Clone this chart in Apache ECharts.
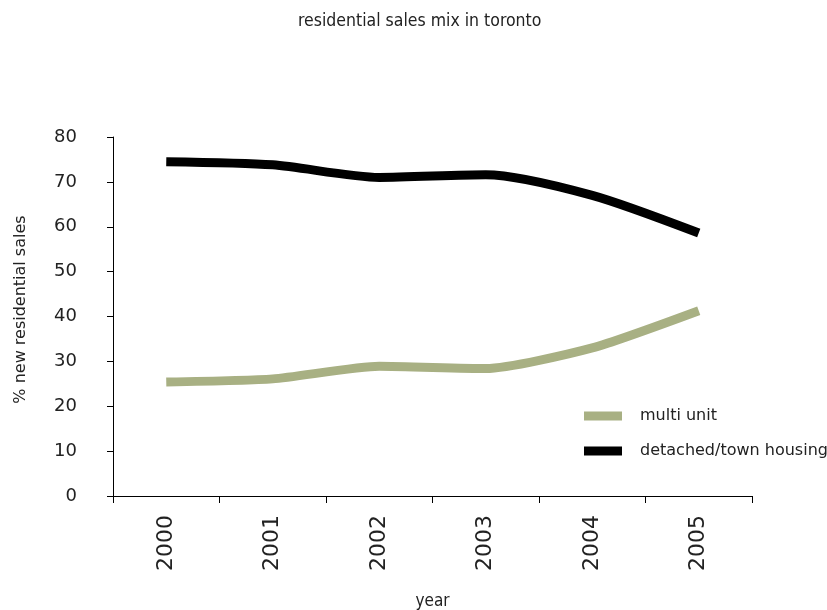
<!DOCTYPE html>
<html>
<head>
<meta charset="utf-8">
<script src="https://cdn.jsdelivr.net/npm/echarts@6/dist/echarts.min.js"></script>
<style>
html,body{margin:0;padding:0;background:#fff;}
#chart{width:827px;height:610px;}
</style>
</head>
<body>
<div id="chart"></div>
<script>
const categories = ['2000', '2001', '2002', '2003', '2004', '2005'];
const multiUnit = [25.4, 26.1, 28.9, 28.4, 33.0, 41.3];
const detached = [74.5, 73.8, 71.0, 71.6, 67.0, 58.6];
const yTicks = [0, 80, 10];

const chart = echarts.init(document.getElementById('chart'), null, {renderer: 'canvas'});
const font = '"DejaVu Sans", sans-serif';
const condensed = '"DejaVu Sans Condensed", "DejaVu Sans", sans-serif';
chart.setOption({
  animation: false,
  backgroundColor: '#fff',
  title: {
    text: 'residential sales mix in toronto',
    left: 293,
    top: 7,
    textStyle: {fontFamily: condensed, fontSize: 17.5, fontWeight: 'normal', color: '#222'}
  },
  grid: {left: 113, right: 75, top: 137, bottom: 114, containLabel: false, outerBoundsMode: 'none'},
  legend: {
    orient: 'vertical',
    left: 584,
    top: 408,
    padding: 0,
    itemWidth: 38,
    itemHeight: 9,
    itemGap: 19,
    icon: 'rect',
    data: ['multi unit', 'detached/town housing'],
    textStyle: {fontFamily: font, fontSize: 16, color: '#222', padding: [0, 0, 0, 13]}
  },
  xAxis: {
    type: 'category',
    data: categories,
    boundaryGap: true,
    name: 'year',
    nameLocation: 'middle',
    nameGap: 97,
    nameTextStyle: {fontFamily: condensed, fontSize: 17, color: '#222'},
    axisLine: {lineStyle: {color: '#000', width: 1}},
    axisTick: {show: true, length: 7, lineStyle: {color: '#000'}},
    axisLabel: {rotate: 90, margin: 19, fontFamily: font, fontSize: 22, color: '#222'},
    splitLine: {show: false}
  },
  yAxis: {
    type: 'value',
    min: yTicks[0],
    max: yTicks[1],
    interval: yTicks[2],
    name: '% new residential sales',
    nameLocation: 'middle',
    nameGap: 84,
    nameTextStyle: {fontFamily: font, fontSize: 16, color: '#222', padding: [0, 0, 0, 14]},
    axisLine: {show: true, lineStyle: {color: '#000', width: 1}},
    axisTick: {show: true, length: 6, lineStyle: {color: '#000'}},
    axisLabel: {margin: 8, padding: [0, 28, 0, 0], fontFamily: font, fontSize: 18, color: '#222'},
    splitLine: {show: false}
  },
  series: [
    {
      name: 'multi unit',
      type: 'line',
      data: multiUnit,
      smooth: 0.2,
      symbol: 'none',
      color: '#a8b083',
      lineStyle: {width: 9, color: '#a8b083', cap: 'butt'}
    },
    {
      name: 'detached/town housing',
      type: 'line',
      data: detached,
      smooth: 0.25,
      symbol: 'none',
      color: '#000',
      lineStyle: {width: 9, color: '#000', cap: 'butt'}
    }
  ]
});
</script>
</body>
</html>
